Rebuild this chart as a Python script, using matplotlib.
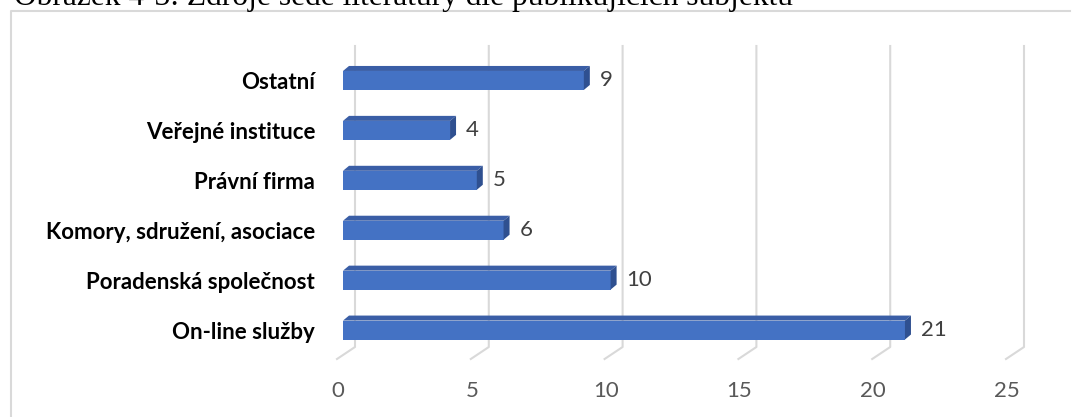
import matplotlib
matplotlib.use('Agg')
import matplotlib.pyplot as plt
import matplotlib.transforms as mtransforms
from matplotlib.patches import Polygon
from matplotlib.lines import Line2D

# data
categories = ['On-line služby', 'Poradenská společnost', 'Komory, sdružení, asociace',
              'Právní firma', 'Veřejné instituce', 'Ostatní']
values = [21, 10, 6, 5, 4, 9]
x_ticks = [0, 5, 10, 15, 20, 25]
caption = 'Obrázek 4-3: Zdroje šedé literatury dle publikujících subjektů'

W, H = 1075, 417
fig = plt.figure(figsize=(W / 100, H / 100), dpi=100)

# plot area in pixels (from top-left)
ax_left, ax_right = 343, 1012
ax_top, ax_bot = 46, 359
ax = fig.add_axes([ax_left / W, 1 - ax_bot / H,
                   (ax_right - ax_left) / W, (ax_bot - ax_top) / H])
ax.set_xlim(0, 25)
ax.set_ylim(-0.58, 5.69)
for s in ax.spines.values():
    s.set_visible(False)

ppu_x = (ax_right - ax_left) / 25
ppu_y = (ax_bot - ax_top) / (5.69 + 0.58)

grid_col = '#d9d9d9'
front_col = '#4472C4'
top_col = '#3a5ea6'
side_col = '#2f5090'

# back wall gridlines + floor diagonals
blend = mtransforms.blended_transform_factory(ax.transData, ax.transAxes)
floor_back = 12 / (ax_bot - ax_top)
for k in x_ticks:
    xs = [k - 6 / ppu_x, k + 12 / ppu_x, k + 12 / ppu_x]
    ys = [0, floor_back, 1]
    ax.add_line(Line2D(xs, ys, color=grid_col, lw=1.5, transform=blend,
                       clip_on=False, zorder=1))

# 3D bars
bar_h = 0.38
ddx = 6 / ppu_x
ddy = 5 / ppu_y
y_pos = list(range(len(categories)))
ax.barh(y_pos, values, height=bar_h, color=front_col, zorder=3)
for i, v in zip(y_pos, values):
    yb, yt = i - bar_h / 2, i + bar_h / 2
    ax.add_patch(Polygon([(0, yt), (v, yt), (v + ddx, yt + ddy), (ddx, yt + ddy)],
                         closed=True, facecolor=top_col, edgecolor='none', zorder=3))
    ax.add_patch(Polygon([(v, yb), (v, yt), (v + ddx, yt + ddy), (v + ddx, yb + ddy)],
                         closed=True, facecolor=side_col, edgecolor='none', zorder=3))
    ax.text(v + ddx, i, str(v), ha='left', va='center', fontsize=16,
            fontfamily='Lato', color='#404040',
            transform=mtransforms.offset_copy(ax.transData, fig, x=10, y=0, units='dots'))

ax.set_yticks(y_pos)
ax.set_yticklabels(categories, fontfamily='Lato', fontweight='bold', fontsize=16, color='black')
ax.tick_params(axis='y', length=0, pad=20)

ax.set_xticks(x_ticks)
ax.set_xticklabels([str(t) for t in x_ticks], fontfamily='Lato', fontsize=16, color='#595959')
ax.tick_params(axis='x', length=0, pad=16)
shift = mtransforms.ScaledTranslation(-5 / 100, 0, fig.dpi_scale_trans)
for lab in ax.get_xticklabels():
    lab.set_transform(lab.get_transform() + shift)

# chart frame (left and top edges visible)
fig.add_artist(Line2D([10.5 / W, 10.5 / W, 1070 / W], [0, 1 - 10.5 / H, 1 - 10.5 / H],
                      color=grid_col, lw=1.5, transform=fig.transFigure))

# caption, cut off by the top edge as in the source
fig.text(14 / W, 1 - 5.5 / H, caption, fontfamily='Liberation Serif', fontsize=22.7,
         ha='left', va='baseline', color='black')

fig.savefig('out.png', dpi=100)
